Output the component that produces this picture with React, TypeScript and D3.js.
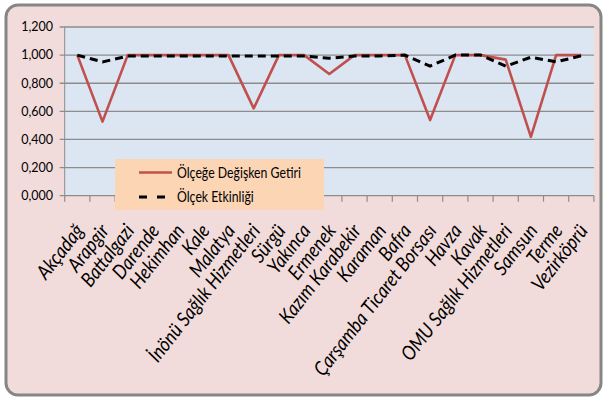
import React from "react";
import * as d3 from "d3";

const categories = [
  "Akçadağ", "Arapgir", "Battalgazi", "Darende", "Hekimhan", "Kale", "Malatya",
  "İnönü Sağlık Hizmetleri", "Sürgü", "Yakınca", "Ermenek", "Kazım Karabekir",
  "Karaman", "Bafra", "Çarşamba Ticaret Borsası", "Havza", "Kavak",
  "OMU Sağlık Hizmetleri", "Samsun", "Terme", "Vezirköprü",
];
const vrsValues = [1, 0.527, 1, 1, 1, 1, 1, 0.621, 1, 1, 0.866, 1, 1, 1, 0.538, 1, 1, 0.968, 0.419, 1, 1];
const scaleValues = [1, 0.952, 0.993, 0.994, 0.994, 0.994, 0.994, 0.993, 0.994, 0.993, 0.978, 0.993, 0.994, 1, 0.922, 1, 1, 0.921, 0.985, 0.952, 0.995];
const yTicks = [0, 0.2, 0.4, 0.6, 0.8, 1.0, 1.2];
const seriesNames = ["Ölçeğe Değişken Getiri", "Ölçek Etkinliği"];

const W = 603, H = 399;
const FONT = "Lato, 'Open Sans', sans-serif";

export default function App() {
  const x = d3.scaleBand<string>().domain(categories).range([64.7, 593.9]).padding(0);
  const y = d3.scaleLinear().domain([0, 1.2]).range([195.7, 27]);
  const cx = (c: string) => (x(c) as number) + x.bandwidth() / 2;
  const line = d3.line<number>().x((_, i) => cx(categories[i])).y((d) => y(d));
  const fmtTick = (v: number) => d3.format(".3f")(v).replace(".", ",");
  const [x0, x1] = x.range();
  const boundaries = categories.map((c) => x(c) as number).concat([x1]);

  return (
    <svg width={W} height={H} style={{ position: "absolute", left: 0, top: 0, background: "#fff" }} fontFamily={FONT}>
      <rect x={6} y={5} width={595} height={390} rx={12} fill="#F2DCDB" stroke="#868686" strokeWidth={3} />
      <rect x={x0} y={y(1.2)} width={x1 - x0} height={y(0) - y(1.2)} fill="#DCE6F2" />
      {yTicks.map((t) => (
        <g key={t}>
          <line x1={x0 - 5} x2={x1} y1={y(t)} y2={y(t)} stroke="#8C8C8C" strokeWidth={1.3} />
          <text x={53} y={y(t)} dy="0.35em" textAnchor="end" fontSize={12.5} fill="#000">
            {fmtTick(t)}
          </text>
        </g>
      ))}
      <line x1={x0} x2={x0} y1={y(1.2)} y2={y(0)} stroke="#8C8C8C" strokeWidth={1} />
      {boundaries.map((b, i) => (
        <line key={i} x1={b} x2={b} y1={y(0)} y2={y(0) + 6} stroke="#8C8C8C" strokeWidth={1.2} />
      ))}
      <path d={line(vrsValues) || ""} fill="none" stroke="#C0504D" strokeWidth={2.6} strokeLinejoin="round" />
      <path d={line(scaleValues) || ""} fill="none" stroke="#000" strokeWidth={3} strokeDasharray="8,5" />
      {categories.map((c) => (
        <text
          key={c}
          transform={`translate(${cx(c) + 7.5},${231}) rotate(-52) scale(0.93,1.05)`}
          textAnchor="end"
          fontSize={19}
          fontStyle="italic"
          fill="#000"
        >
          {c}
        </text>
      ))}
      <g>
        <rect x={115} y={159} width={209} height={51} fill="#FCD5B5" />
        <line x1={139} x2={172} y1={172.5} y2={172.5} stroke="#C0504D" strokeWidth={2.6} />
        <text transform={`translate(177,172.5) scale(0.82,1)`} dy="0.35em" fontSize={15} fill="#000">{seriesNames[0]}</text>
        <line x1={139} x2={166} y1={197} y2={197} stroke="#000" strokeWidth={3} strokeDasharray="8,10" />
        <text transform={`translate(177,197) scale(0.82,1)`} dy="0.35em" fontSize={15} fill="#000">{seriesNames[1]}</text>
      </g>
    </svg>
  );
}
